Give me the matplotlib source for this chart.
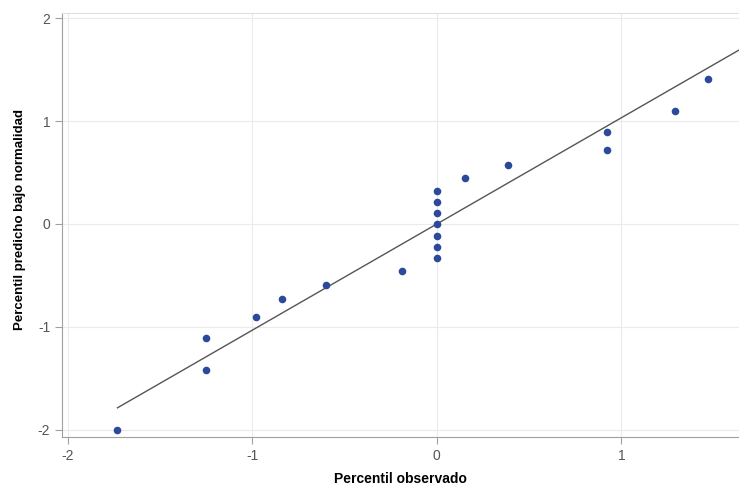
import matplotlib
matplotlib.use("Agg")
import matplotlib.pyplot as plt

# observed percentiles (x) and predicted under normality (y)
observed = [-1.73, -1.25, -1.25, -0.98, -0.84, -0.60, -0.19,
            0.0, 0.0, 0.0, 0.0, 0.0, 0.0, 0.0,
            0.15, 0.385, 0.92, 0.92, 1.29, 1.47]
predicted = [-2.00, -1.11, -1.42, -0.90, -0.73, -0.59, -0.46,
             0.32, 0.21, 0.11, 0.0, -0.12, -0.22, -0.33,
             0.45, 0.575, 0.89, 0.72, 1.10, 1.41]

line_x = [-1.73, 1.70]
slope = 1.033

x_ticks = [-2, -1, 0, 1]
y_ticks = [-2, -1, 0, 1, 2]

plt.rcParams["font.family"] = ["Liberation Sans", "DejaVu Sans"]
plt.rcParams["axes.unicode_minus"] = False

fig = plt.figure(figsize=(7.39, 4.86), dpi=100)
ax = fig.add_axes([0.084, 0.101, 0.916, 0.872])

ax.plot(line_x, [slope * v for v in line_x], color="#555555", lw=1.0, zorder=2)
ax.scatter(observed, predicted, s=30, color="#2b4a9c", zorder=3, linewidths=0)

ax.set_xlim(-2.03, 1.637)
ax.set_ylim(-2.07, 2.05)
ax.set_xticks(x_ticks)
ax.set_yticks(y_ticks)
ax.grid(True, color="#ebebeb", lw=0.8)
ax.set_axisbelow(True)

for side in ["left", "bottom"]:
    ax.spines[side].set_color("#a0a0a0")
for side in ["top", "right"]:
    ax.spines[side].set_color("#e0e0e0")

ax.tick_params(colors="#a0a0a0", labelcolor="#555555", labelsize=10, length=5)

ax.set_xlabel("Percentil observado", fontsize=10, fontweight="bold", labelpad=7)
ax.set_ylabel("Percentil predicho bajo normalidad", fontsize=9.5, fontweight="bold")
ax.yaxis.set_label_coords(-0.053, 0.512)

fig.savefig("out.png", dpi=100)
